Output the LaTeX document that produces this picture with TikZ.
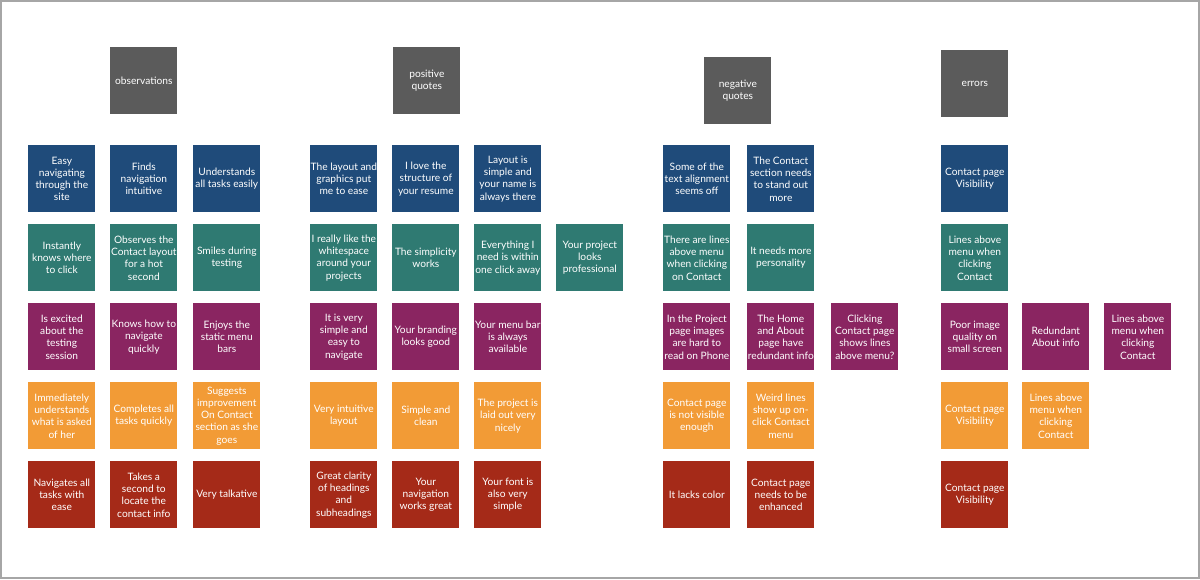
\documentclass[tikz,border=0pt]{standalone}
\usepackage{fontspec}
\setmainfont{Lato}
\usetikzlibrary{positioning}
\definecolor{hd}{HTML}{5B5B5B}
\definecolor{bl}{HTML}{1F4B7A}
\definecolor{tl}{HTML}{2F7A72}
\definecolor{pu}{HTML}{8A2561}
\definecolor{or}{HTML}{F29B36}
\definecolor{rd}{HTML}{A52A18}
\tikzset{
    note/.style={draw=none,fill=#1,text=white,minimum width=1.34cm,minimum height=1.34cm,
        inner sep=0pt,align=center,font=\fontsize{5.8}{7}\selectfont},
    header/.style={note=hd}
}
% sticky note: name, x, y (top left, px), colour, text
\newcommand{\sticky}[5]{
    \node[note=#4,anchor=north west] (#1) at (#2,#3) {#5};
}

\begin{document}
\begin{tikzpicture}[x=0.02cm,y=-0.02cm]
        \useasboundingbox (0,0) rectangle (1200,579);
        \draw[color=gray!70,line width=0.6pt] (1,1) rectangle (1199,578);

        % headers
        \node[header,anchor=north west] (hobs) at (110,47) {observations};
        \node[header,anchor=north west] (hpos) at (393,47) {positive\\quotes};
        \node[header,anchor=north west] (hneg) at (704,57) {negative\\quotes};
        \node[header,anchor=north west] (herr) at (941,50) {errors};

        % observations
        \sticky{o11}{28}{145}{bl}{Easy\\navigating\\through the\\site};
        \sticky{o12}{110}{145}{bl}{Finds\\navigation\\intuitive};
        \sticky{o13}{193}{145}{bl}{Understands\\all tasks easily};
        \sticky{o21}{28}{224}{tl}{Instantly\\knows where\\to click};
        \sticky{o22}{110}{224}{tl}{Observes the\\Contact layout\\for a hot\\second};
        \sticky{o23}{193}{224}{tl}{Smiles during\\testing};
        \sticky{o31}{28}{303}{pu}{Is excited\\about the\\testing\\session};
        \sticky{o32}{110}{303}{pu}{Knows how to\\navigate\\quickly};
        \sticky{o33}{193}{303}{pu}{Enjoys the\\static menu\\bars};
        \sticky{o41}{28}{382}{or}{Immediately\\understands\\what is asked\\of her};
        \sticky{o42}{110}{382}{or}{Completes all\\tasks quickly};
        \sticky{o43}{193}{382}{or}{Suggests\\improvement\\On Contact\\section as she\\goes};
        \sticky{o51}{28}{461}{rd}{Navigates all\\tasks with\\ease};
        \sticky{o52}{110}{461}{rd}{Takes a\\second to\\locate the\\contact info};
        \sticky{o53}{193}{461}{rd}{Very talkative};

        % positive quotes
        \sticky{p11}{310}{145}{bl}{The layout and\\graphics put\\me to ease};
        \sticky{p12}{392}{145}{bl}{I love the\\structure of\\your resume};
        \sticky{p13}{474}{145}{bl}{Layout is\\simple and\\your name is\\always there};
        \sticky{p21}{310}{224}{tl}{I really like the\\whitespace\\around your\\projects};
        \sticky{p22}{392}{224}{tl}{The simplicity\\works};
        \sticky{p23}{474}{224}{tl}{Everything I\\need is within\\one click away};
        \sticky{p24}{556}{224}{tl}{Your project\\looks\\professional};
        \sticky{p31}{310}{303}{pu}{It is very\\simple and\\easy to\\navigate};
        \sticky{p32}{392}{303}{pu}{Your branding\\looks good};
        \sticky{p33}{474}{303}{pu}{Your menu bar\\is always\\available};
        \sticky{p41}{310}{382}{or}{Very intuitive\\layout};
        \sticky{p42}{392}{382}{or}{Simple and\\clean};
        \sticky{p43}{474}{382}{or}{The project is\\laid out very\\nicely};
        \sticky{p51}{310}{461}{rd}{Great clarity\\of headings\\and\\subheadings};
        \sticky{p52}{392}{461}{rd}{Your\\navigation\\works great};
        \sticky{p53}{474}{461}{rd}{Your font is\\also very\\simple};

        % negative quotes
        \sticky{n11}{663}{145}{bl}{Some of the\\text alignment\\seems off};
        \sticky{n12}{747}{145}{bl}{The Contact\\section needs\\to stand out\\more};
        \sticky{n21}{663}{224}{tl}{There are lines\\above menu\\when clicking\\on Contact};
        \sticky{n22}{747}{224}{tl}{It needs more\\personality};
        \sticky{n31}{663}{303}{pu}{In the Project\\page images\\are hard to\\read on Phone};
        \sticky{n32}{747}{303}{pu}{The Home\\and About\\page have\\redundant info};
        \sticky{n33}{831}{303}{pu}{Clicking\\Contact page\\shows lines\\above menu?};
        \sticky{n41}{663}{382}{or}{Contact page\\is not visible\\enough};
        \sticky{n42}{747}{382}{or}{Weird lines\\show up on-\\click Contact\\menu};
        \sticky{n51}{663}{461}{rd}{It lacks color};
        \sticky{n52}{747}{461}{rd}{Contact page\\needs to be\\enhanced};

        % errors
        \sticky{e11}{941}{145}{bl}{Contact page\\Visibility};
        \sticky{e21}{941}{224}{tl}{Lines above\\menu when\\clicking\\Contact};
        \sticky{e31}{941}{303}{pu}{Poor image\\quality on\\small screen};
        \sticky{e32}{1022}{303}{pu}{Redundant\\About info};
        \sticky{e33}{1104}{303}{pu}{Lines above\\menu when\\clicking\\Contact};
        \sticky{e41}{941}{382}{or}{Contact page\\Visibility};
        \sticky{e42}{1022}{382}{or}{Lines above\\menu when\\clicking\\Contact};
        \sticky{e51}{941}{461}{rd}{Contact page\\Visibility};

\end{tikzpicture}
\end{document}
